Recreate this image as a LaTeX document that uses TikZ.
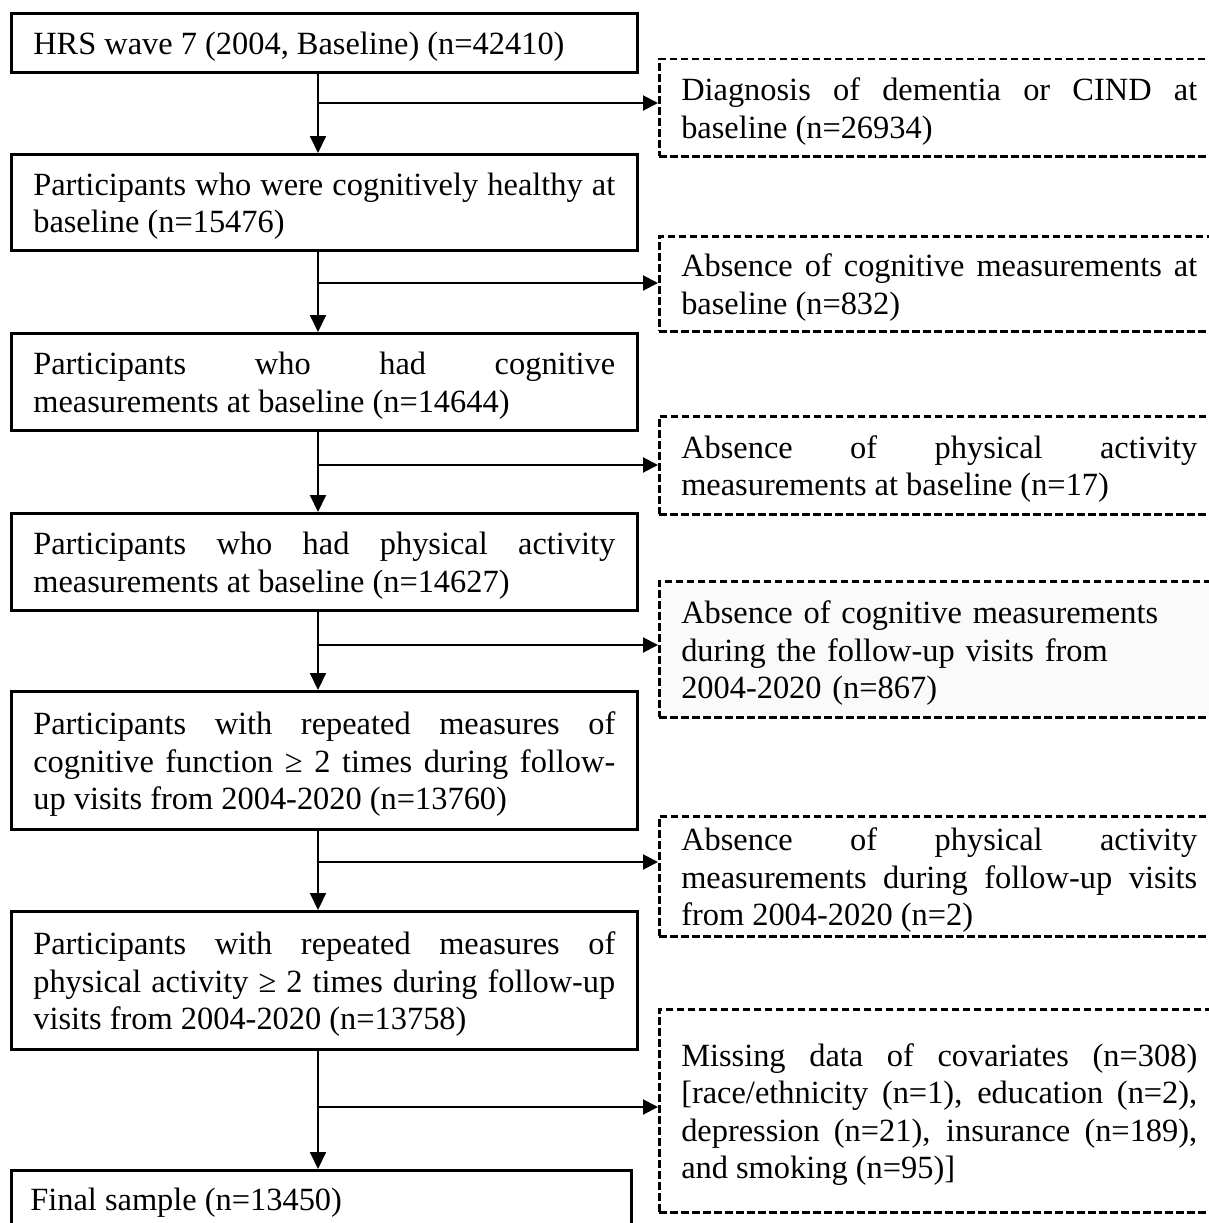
\documentclass[tikz,border=0pt]{standalone}
\usepackage{fontspec}
\setmainfont{Liberation Serif}
\usetikzlibrary{arrows.meta}
\setlength{\parindent}{0pt}
\hbadness=10000 \hfuzz=20pt \tolerance=10000
\hyphenpenalty=10000 \exhyphenpenalty=10000
\begin{document}
\begin{tikzpicture}[x=1pt,y=-1pt,
  every node/.style={font=\fontsize{32.4}{37.5}\selectfont},
  mainbox/.style={draw, line width=2.6pt, anchor=north west, text width=582pt,
    inner xsep=22pt, inner ysep=0pt, align=justify,
    execute at begin node={\rule{0pt}{30.5pt}}},
  sidebox/.style={draw, line width=2.5pt, dash pattern=on 7.5pt off 3.5pt, anchor=north west,
    text width=516pt, inner xsep=22pt, inner ysep=0pt, align=justify,
    execute at begin node={\rule{0pt}{30.5pt}}},
  arr/.style={line width=2pt, -{Triangle[length=17pt,width=16pt]}},
  sarr/.style={line width=2pt, -{Triangle[length=15pt,width=15pt]}}]
\useasboundingbox (0,0) rectangle (1208,1223);

% main column
\node[mainbox, minimum height=59pt] (L1) at (10,12) {HRS wave 7 (2004, Baseline) (n=42410)};
\node[mainbox, minimum height=96pt] (L2) at (10,153) {Participants who were cognitively healthy at\linebreak baseline (n=15476)};
\node[mainbox, minimum height=97pt] (L3) at (10,332) {Participants who had cognitive\linebreak measurements at baseline (n=14644)};
\node[mainbox, minimum height=97pt] (L4) at (10,512) {Participants who had physical activity\linebreak measurements at baseline (n=14627)};
\node[mainbox, minimum height=138pt] (L5) at (10,690) {Participants with repeated measures of\linebreak cognitive function ≥ 2 times during follow-\linebreak up visits from 2004-2020 (n=13760)};
\node[mainbox, minimum height=138pt] (L6) at (10,910) {Participants with repeated measures of\linebreak physical activity ≥ 2 times during follow-up\linebreak visits from 2004-2020 (n=13758)};
\node[mainbox, inner xsep=19pt, text height=40pt, text depth=45pt, execute at begin node={}] (L7) at (10,1169) {Final sample (n=13450)};

% side boxes
\node[sidebox, minimum height=97pt] (R1) at (658,58) {Diagnosis of dementia or CIND at\linebreak baseline (n=26934)};
\node[sidebox, minimum height=95pt] (R2) at (658,235) {Absence of cognitive measurements at\linebreak baseline (n=832)};
\node[sidebox, minimum height=98pt] (R3) at (658,415) {Absence of physical activity\linebreak measurements at baseline (n=17)};
\node[sidebox, minimum height=136pt, fill=black!2, align=left] (R4) at (658,580) {Absence of cognitive measurements\\during the follow-up visits from\\2004-2020 (n=867)};
\node[sidebox, minimum height=120pt] (R5) at (658,815) {Absence of physical activity\linebreak measurements during follow-up visits\linebreak from 2004-2020 (n=2)};
\node[sidebox, minimum height=203pt] (R6) at (658,1008) {Missing data of covariates (n=308)\linebreak{}[race/ethnicity (n=1), education (n=2),\linebreak depression (n=21), insurance (n=189),\linebreak and smoking (n=95)]};

% branch points
\coordinate (b1) at (318,103);
\coordinate (b2) at (318,283);
\coordinate (b3) at (318,465);
\coordinate (b4) at (318,645);
\coordinate (b5) at (318,862);
\coordinate (b6) at (318,1107);

% vertical arrows
\draw[arr] (L1.south -| b1) -- (L2.north -| b1);
\draw[arr] (L2.south -| b1) -- (L3.north -| b1);
\draw[arr] (L3.south -| b1) -- (L4.north -| b1);
\draw[arr] (L4.south -| b1) -- (L5.north -| b1);
\draw[arr] (L5.south -| b1) -- (L6.north -| b1);
\draw[arr] (L6.south -| b1) -- (L7.north -| b1);

% side arrows
\draw[sarr] (b1) -- (b1 -| R1.west);
\draw[sarr] (b2) -- (b2 -| R2.west);
\draw[sarr] (b3) -- (b3 -| R3.west);
\draw[sarr] (b4) -- (b4 -| R4.west);
\draw[sarr] (b5) -- (b5 -| R5.west);
\draw[sarr] (b6) -- (b6 -| R6.west);
\end{tikzpicture}
\end{document}
